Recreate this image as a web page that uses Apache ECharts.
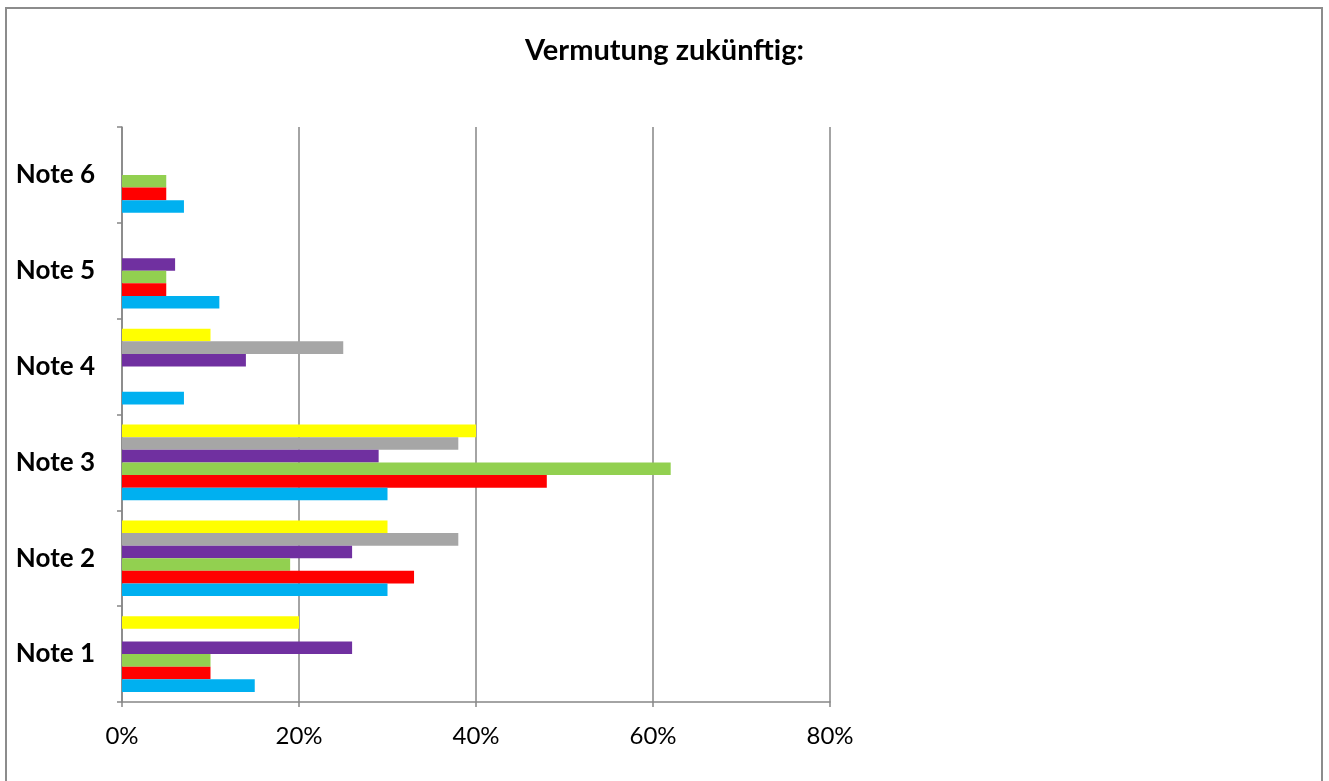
<!DOCTYPE html>
<html>
<head>
<meta charset="utf-8">
<script src="https://cdn.jsdelivr.net/npm/echarts@6/dist/echarts.min.js"></script>
<style>
  html, body { margin: 0; padding: 0; background: #fff; }
  #chart { width: 1329px; height: 781px; }
</style>
</head>
<body>
<div id="chart"></div>
<script>
// Grades, bottom to top
const categories = ['Note 1', 'Note 2', 'Note 3', 'Note 4', 'Note 5', 'Note 6'];

// Shares per grade (percent) for each group
const seriesBlue   = [15, 30, 30, 7, 11, 7];
const seriesRed    = [10, 33, 48, 0, 5, 5];
const seriesGreen  = [10, 19, 62, 0, 5, 5];
const seriesPurple = [26, 26, 29, 14, 6, 0];
const seriesGray   = [0, 38, 38, 25, 0, 0];
const seriesYellow = [20, 30, 40, 10, 0, 0];

const xTicks = [0, 20, 40, 60, 80];

// Listed top-down inside each grade band (yellow on top, blue at the bottom)
const groups = [
  { data: seriesYellow, color: '#FFFF00' },
  { data: seriesGray,   color: '#A6A6A6' },
  { data: seriesPurple, color: '#7030A0' },
  { data: seriesGreen,  color: '#92D050' },
  { data: seriesRed,    color: '#FF0000' },
  { data: seriesBlue,   color: '#00B0F0' }
];

const chart = echarts.init(document.getElementById('chart'), null, { renderer: 'canvas' });

const option = {
  backgroundColor: '#ffffff',
  animation: false,
  title: {
    text: 'Vermutung zukünftig:',
    left: 'center',
    top: 31,
    textStyle: {
      fontFamily: 'Lato',
      fontWeight: 'bold',
      fontSize: 29,
      color: '#000'
    }
  },
  graphic: [{
    type: 'rect',
    shape: { x: 6, y: 8, width: 1316, height: 790 },
    style: { fill: 'none', stroke: '#8c8c8c', lineWidth: 2 },
    silent: true,
    z: -1
  }],
  grid: { left: 122, right: 499, top: 127, bottom: 79, containLabel: false },
  xAxis: {
    type: 'value',
    min: xTicks[0],
    max: xTicks[xTicks.length - 1],
    interval: 20,
    axisLine: { show: true, lineStyle: { color: '#868686', width: 1.5 } },
    axisTick: { show: true, length: 5, lineStyle: { color: '#868686', width: 1.5 } },
    splitLine: { show: true, lineStyle: { color: '#868686', width: 1.5 } },
    axisLabel: {
      formatter: v => v + '%',
      margin: 22,
      fontFamily: 'Lato',
      fontSize: 24,
      color: '#000'
    }
  },
  yAxis: {
    type: 'category',
    data: categories,
    axisLine: { show: true, lineStyle: { color: '#868686', width: 1.5 } },
    axisTick: { show: true, length: 5, lineStyle: { color: '#868686', width: 1.5 } },
    axisLabel: {
      margin: 27,
      fontFamily: 'Lato',
      fontWeight: 'bold',
      fontSize: 26,
      color: '#000'
    }
  },
  series: groups.map(g => ({
    type: 'bar',
    data: g.data,
    barGap: '0%',
    barCategoryGap: '21%',
    itemStyle: { color: g.color },
    silent: true
  }))
};

chart.setOption(option);
</script>
</body>
</html>
